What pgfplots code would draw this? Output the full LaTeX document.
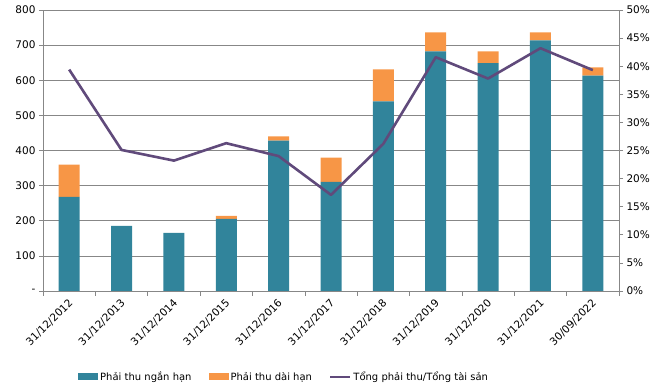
\documentclass[border=0pt]{standalone}
\usepackage{pgfplots}
\pgfplotsset{compat=1.18}
\usepackage{fontspec}
\setmainfont{DejaVu Sans}
\definecolor{teal1}{HTML}{31849B}
\definecolor{orange1}{HTML}{F79646}
\definecolor{purple1}{HTML}{604A7B}
\definecolor{gridc}{HTML}{878787}
\begin{document}
\begin{tikzpicture}
\path[use as bounding box] (-43pt,-96pt) rectangle (616pt,291pt);
\begin{axis}[
  at={(0,0)}, anchor=south west,
  scale only axis, width=576pt, height=281pt,
  font=\fontsize{10.5}{12}\selectfont,
  /pgf/number format/assume math mode=true,
  xmin=-0.5, xmax=10.5, ymin=0, ymax=800,
  ybar stacked, bar width=21pt,
  axis x line*=bottom, axis y line*=left,
  axis line style={gridc, line width=0.6pt},
  xtick={0,1,2,3,4,5,6,7,8,9,10},
  xticklabels={31/12/2012,31/12/2013,31/12/2014,31/12/2015,31/12/2016,31/12/2017,31/12/2018,31/12/2019,31/12/2020,31/12/2021,30/09/2022},
  major x tick style={draw=none},
  minor xtick={-0.5,0.5,1.5,2.5,3.5,4.5,5.5,6.5,7.5,8.5,9.5,10.5},
  minor tick length=5pt, major tick length=4pt,
  tick align=outside,
  tick style={gridc, line width=0.6pt},
  x tick label style={rotate=45, anchor=north east, inner sep=1pt, xshift=-2pt},
  ytick={0,100,200,300,400,500,600,700,800},
  yticklabels={-,100,200,300,400,500,600,700,800},
  ymajorgrids, grid style={gridc, line width=0.6pt},
  legend columns=3,
  legend style={draw=none, fill=none, at={(axis description cs:0,0)}, anchor=west,
    xshift=34pt, yshift=-86pt, font=\fontsize{10}{11}\selectfont,
    /tikz/every even column/.append style={column sep=15pt}, inner sep=1pt},
  legend image code/.code={\fill[#1] (0pt,-3.5pt) rectangle (20pt,3.5pt);},
]
\addplot[fill=teal1, draw=none] coordinates {(0,268) (1,185.5) (2,165.5) (3,205.5) (4,428) (5,311) (6,539.5) (7,682) (8,649) (9,713.5) (10,613.5)};
\addlegendentry{Phải thu ngắn hạn}
\addplot[fill=orange1, draw=none] coordinates {(0,92) (1,0) (2,0) (3,8.5) (4,12) (5,69) (6,91.5) (7,54) (8,33) (9,22.5) (10,23)};
\addlegendentry{Phải thu dài hạn}
\addlegendimage{legend image code/.code={\draw[purple1, line width=2.4pt] (0pt,0pt) -- (20pt,0pt);}}
\addlegendentry{Tổng phải thu/Tổng tài sản}
\end{axis}
\begin{axis}[
  at={(0,0)}, anchor=south west,
  scale only axis, width=576pt, height=281pt,
  font=\fontsize{10.5}{12}\selectfont,
  /pgf/number format/assume math mode=true,
  xmin=-0.5, xmax=10.5, ymin=0, ymax=50,
  axis x line=none, axis y line*=right,
  axis line style={gridc, line width=0.6pt},
  tick align=outside, major tick length=4pt,
  tick style={gridc, line width=0.6pt},
  ytick={0,5,10,15,20,25,30,35,40,45,50},
  yticklabel={\pgfmathprintnumber{\tick}\%},
]
\addplot[purple1, line width=2.6pt, line join=round, mark=none] coordinates {(0,39.4) (1,25.1) (2,23.2) (3,26.3) (4,24.0) (5,17.1) (6,26.2) (7,41.6) (8,37.8) (9,43.2) (10,39.3)};
\end{axis}
\end{tikzpicture}
\end{document}
